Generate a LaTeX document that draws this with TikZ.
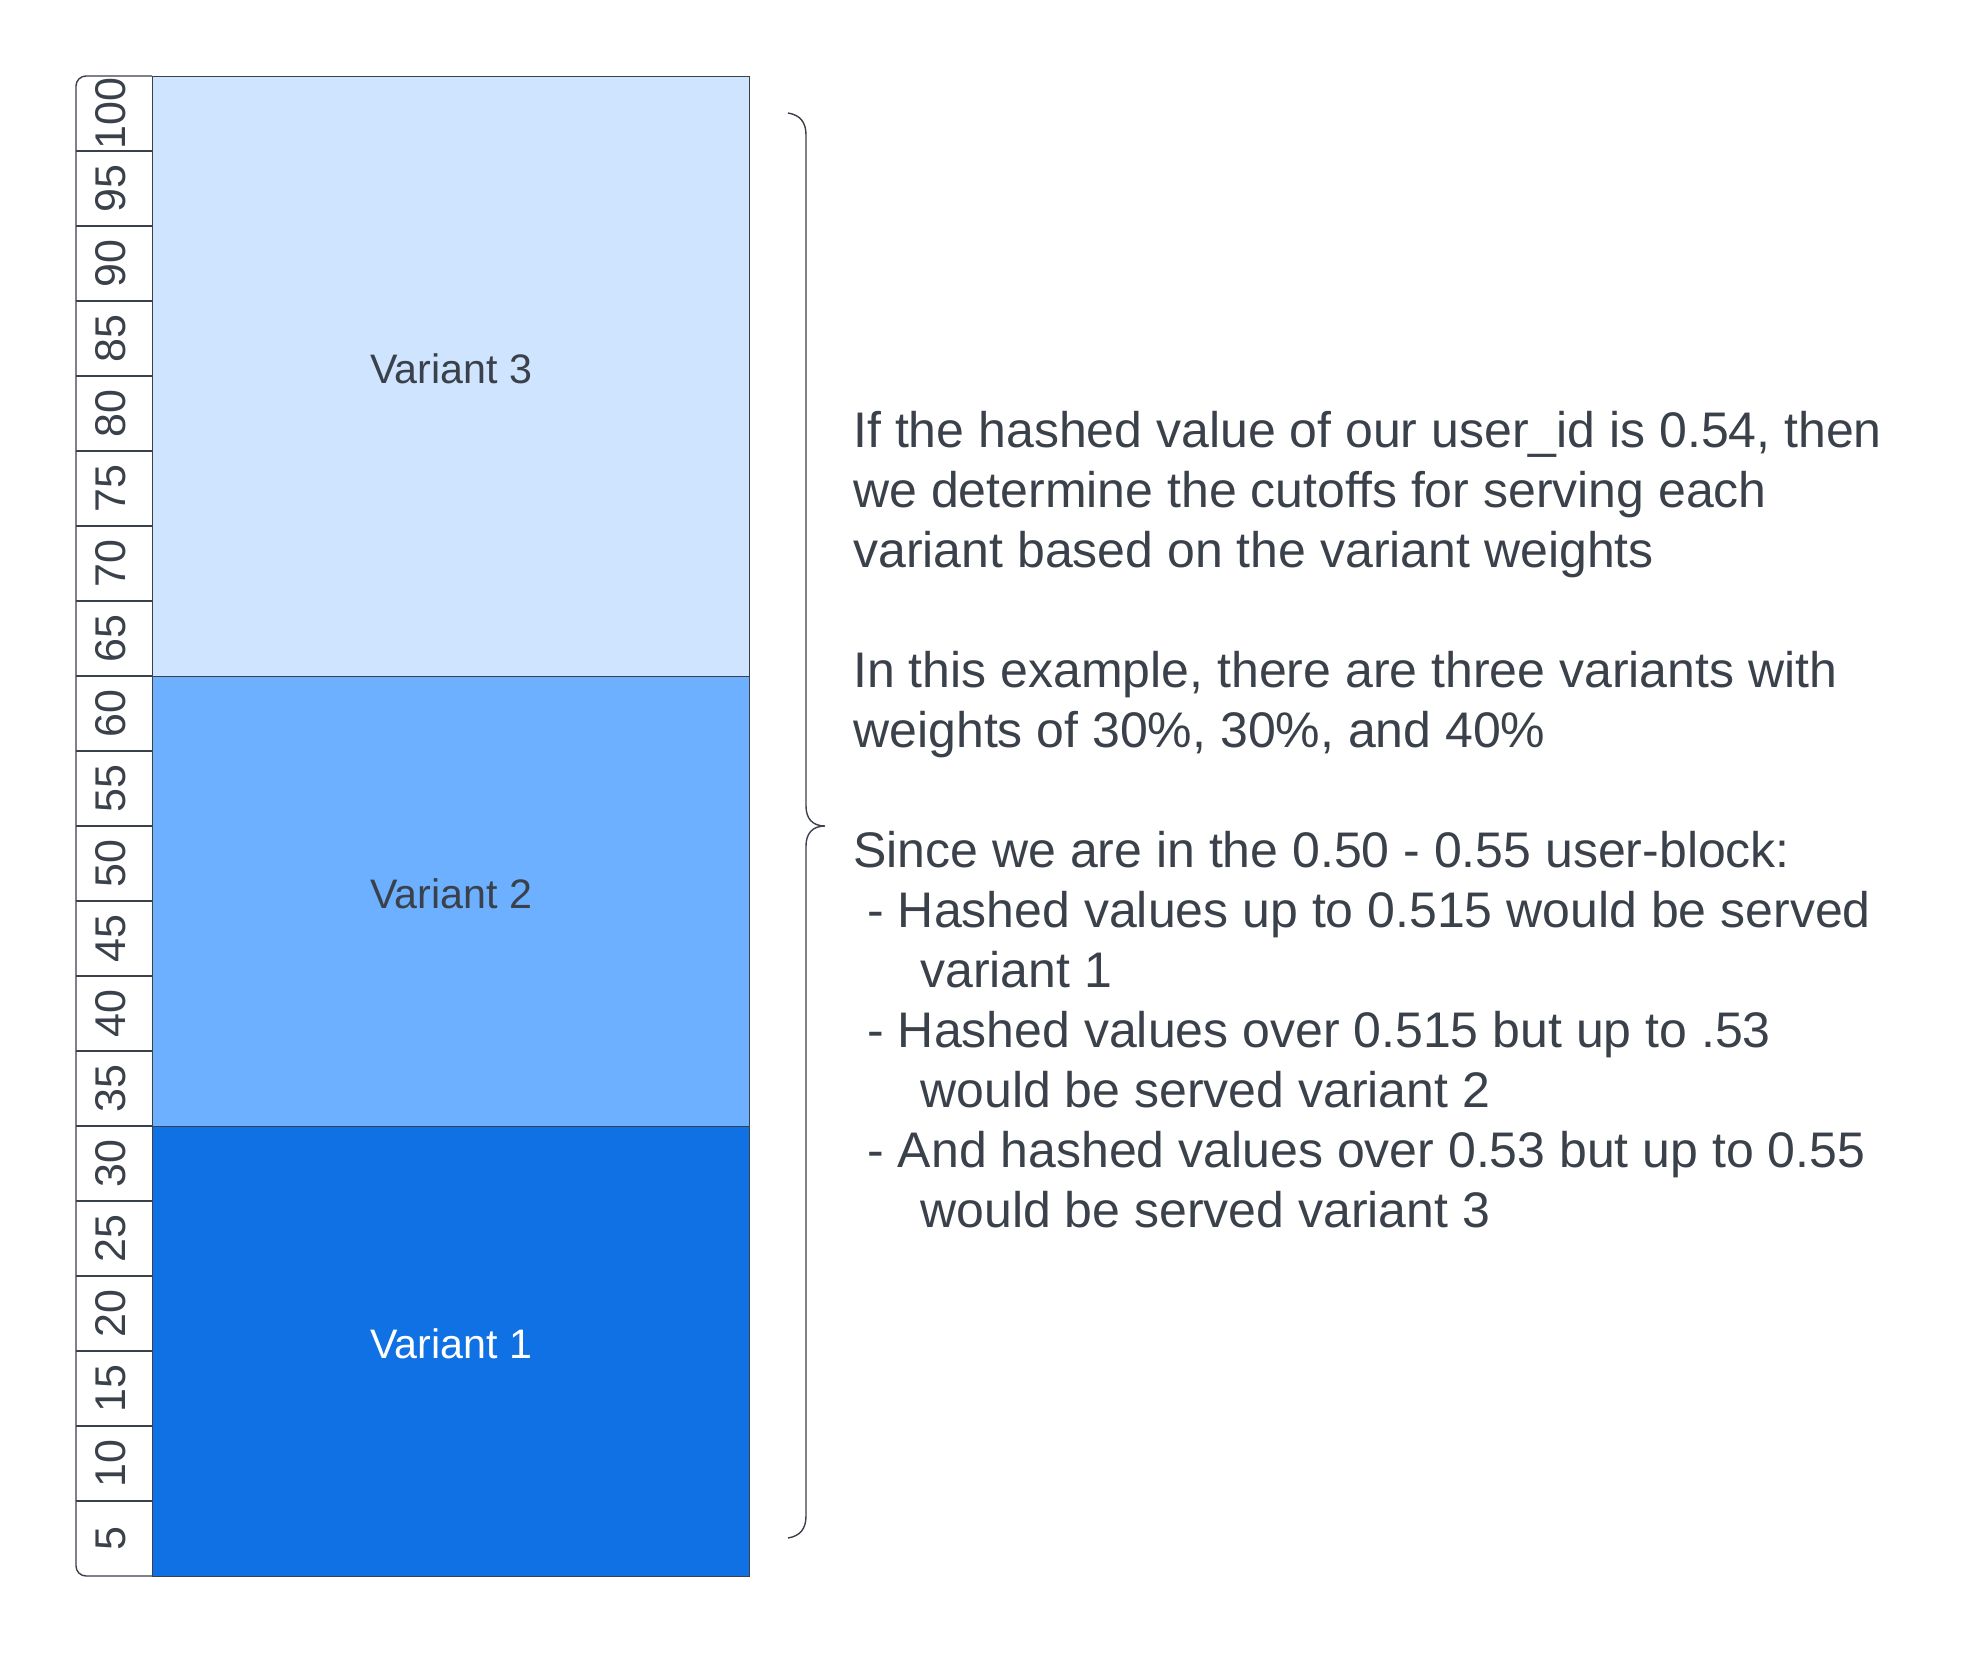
\documentclass[tikz,border=0pt]{standalone}
\usepackage{fontspec}
\setmainfont{Liberation Sans}
\definecolor{ink}{HTML}{3A414A}
\definecolor{pale}{HTML}{CFE4FF}
\definecolor{mid}{HTML}{6CB0FF}
\definecolor{deep}{HTML}{1071E5}
\tikzset{
  band/.style={draw=ink, line width=0.7pt, inner sep=0, anchor=north west, text depth=8pt,
    minimum width=298.5pt, font=\fontsize{20.6}{24}\selectfont, text=ink},
  tick/.style={rotate=90, inner sep=0, font=\fontsize{21.5}{24}\selectfont, text=ink},
}
\begin{document}
\begin{tikzpicture}[x=0.5pt,y=-0.5pt]
\useasboundingbox (0,0) rectangle (1988,1654);
% the three variant bands
\node[band, fill=pale, minimum height=300pt] (v3) at (152,76) {Variant 3};
\node[band, fill=mid, minimum height=225pt] (v2) at (152,676) {Variant 2};
\node[band, fill=deep, minimum height=225pt, text=white] (v1) at (152,1126) {Variant 1};
% the ruler
\draw[ink, line width=0.7pt, rounded corners=5pt] (152,76) -- (76,76) -- (76,1576) -- (152,1576);
\foreach \i in {1,...,19}
  \draw[ink, line width=0.6pt] (76,{1576-75*\i}) -- (152,{1576-75*\i});
\foreach \i [evaluate=\i as \v using int(5*\i)] in {1,...,20}
  \node[tick] (r\i) at (111,{1576-75*(\i-0.5)}) {\v};
% the brace
\draw[ink, line width=0.7pt] (788,113) .. controls (800,115) and (806,122) .. (806,135) -- (806,806)
  .. controls (806,818) and (812,826) .. (825,826) .. controls (812,826) and (806,834) .. (806,846)
  -- (806,1516) .. controls (806,1529) and (800,1536) .. (788,1538);
% the note
\node[anchor=north west, align=left, inner sep=0, text=ink, font=\fontsize{25}{30}\selectfont] (note) at (853,411) {%
If the hashed value of our user\_id is 0.54, then\\
we determine the cutoffs for serving each\\
variant based on the variant weights\\[30pt]
In this example, there are three variants with\\
weights of 30\%, 30\%, and 40\%\\[30pt]
Since we are in the 0.50 - 0.55 user-block:\\
\hspace{7pt}- Hashed values up to 0.515 would be served\\
\hspace{33.5pt}variant 1\\
\hspace{7pt}- Hashed values over 0.515 but up to .53\\
\hspace{33.5pt}would be served variant 2\\
\hspace{7pt}- And hashed values over 0.53 but up to 0.55\\
\hspace{33.5pt}would be served variant 3};
\end{tikzpicture}
\end{document}
